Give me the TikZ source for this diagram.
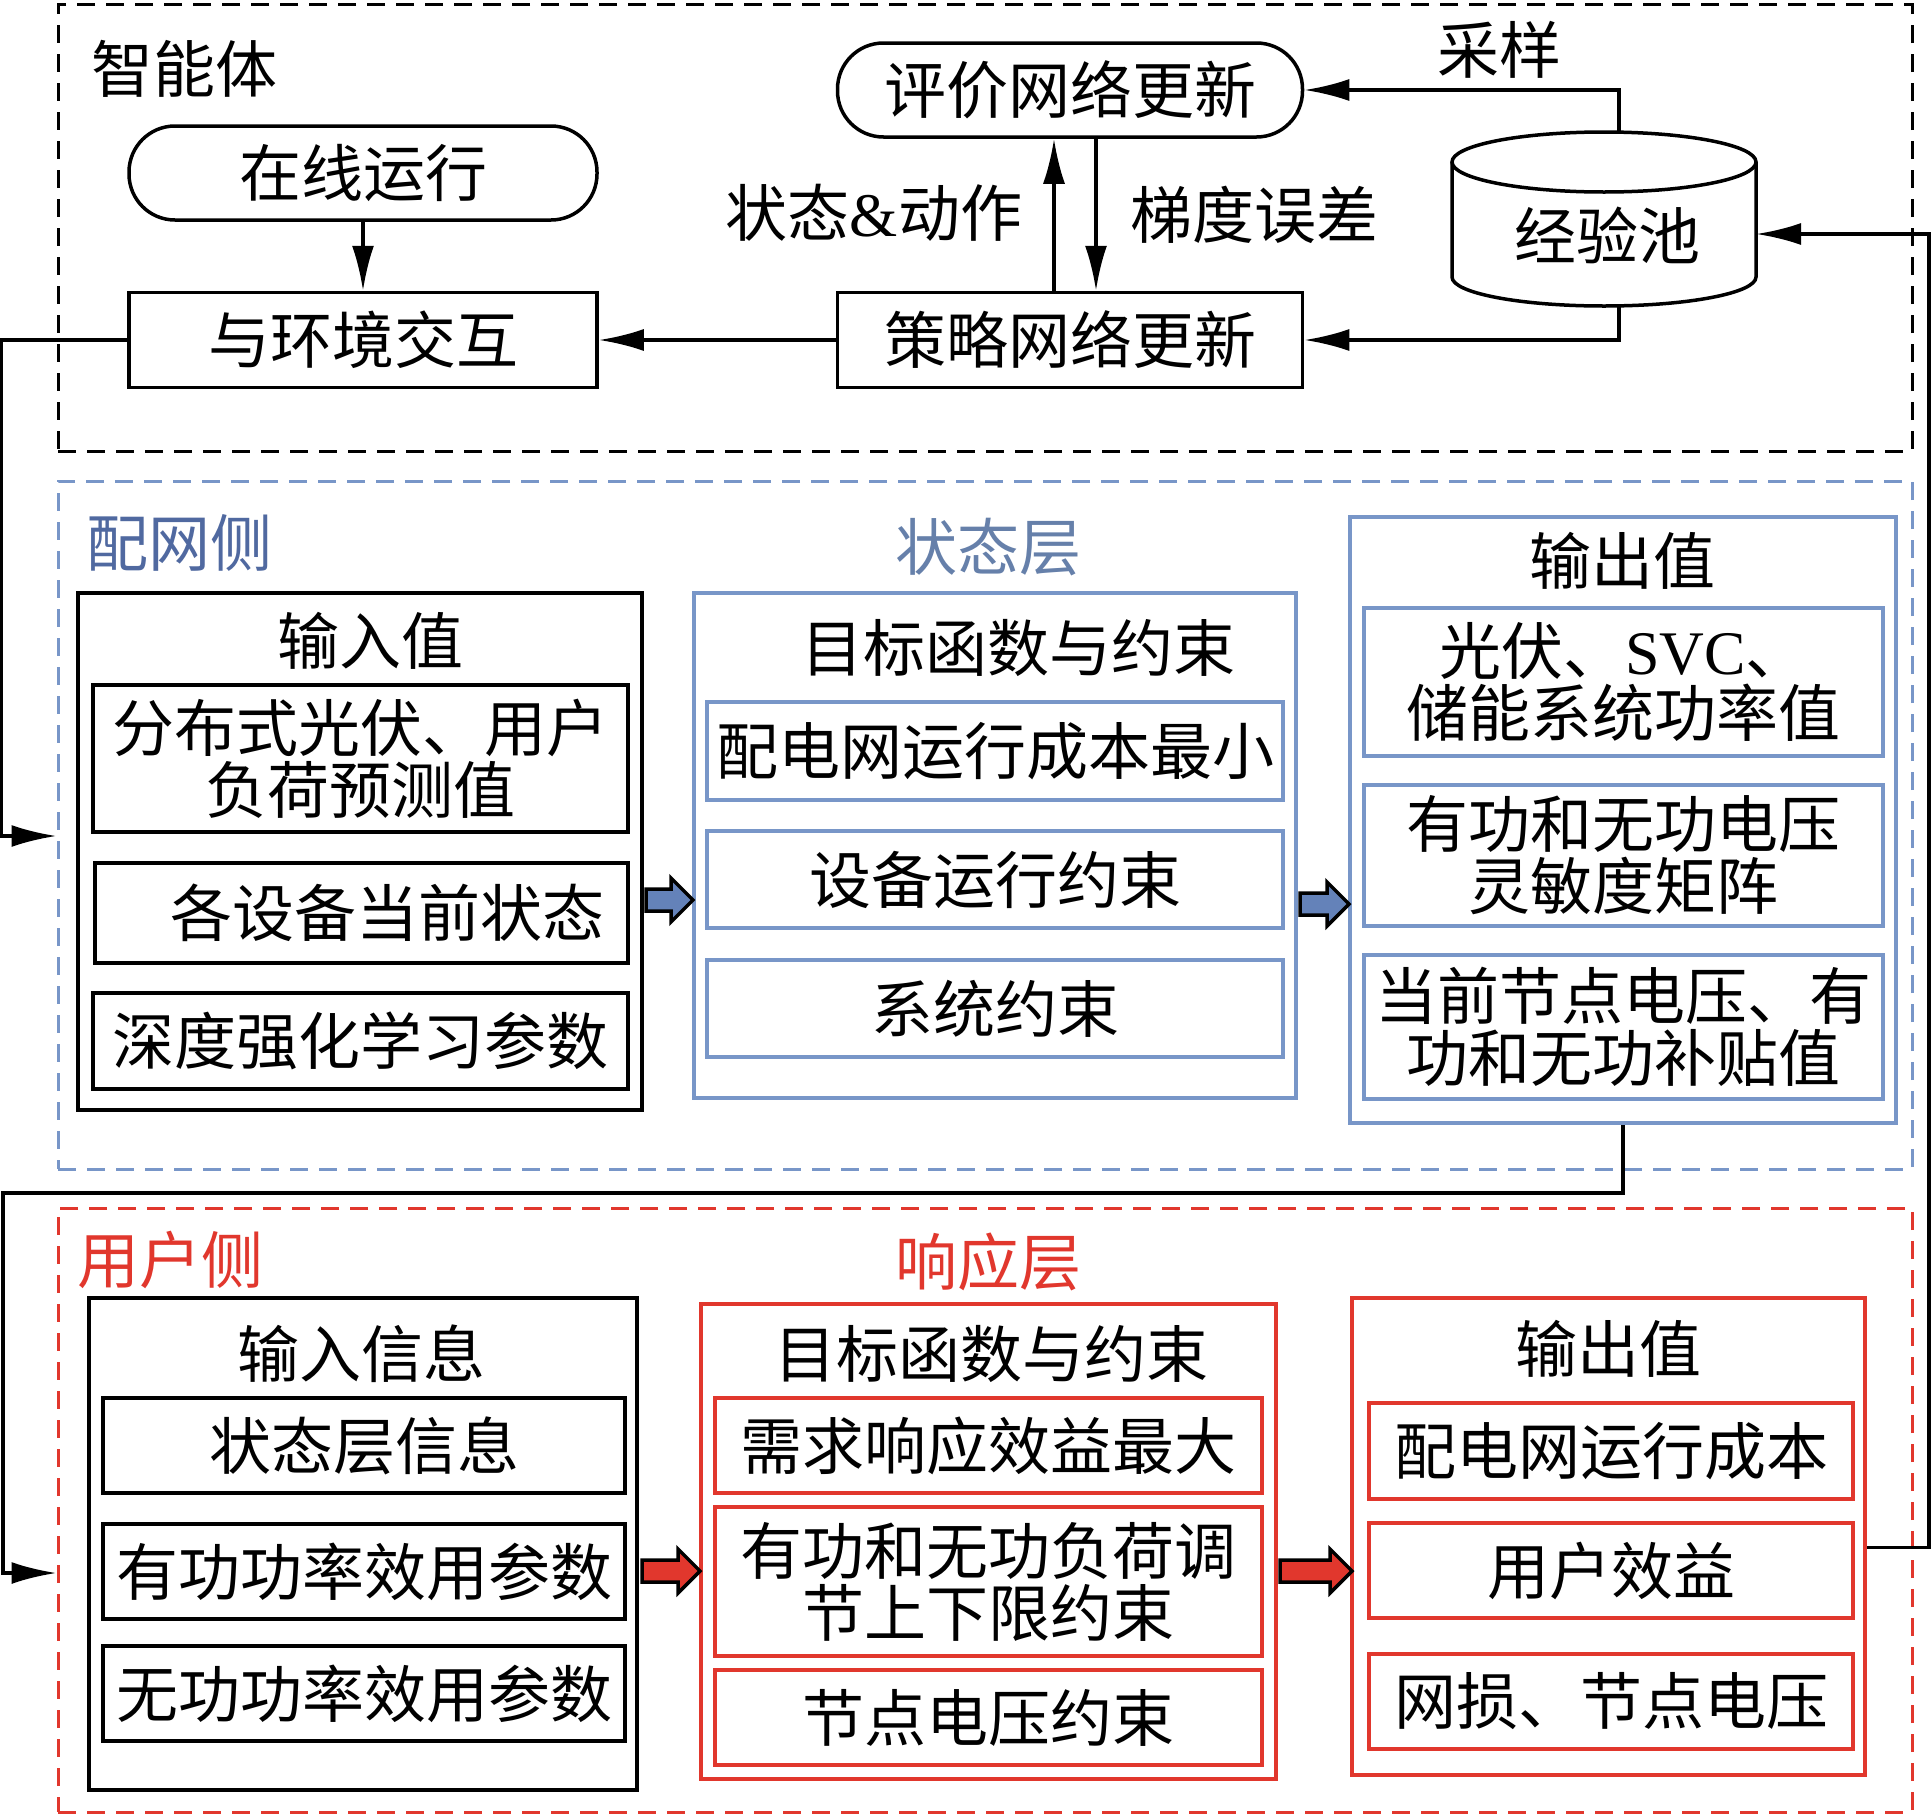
\documentclass[tikz,border=0pt]{standalone}
\usepackage{fontspec}
\setmainfont{Noto Sans CJK SC}
\newfontfamily\latinfont{Liberation Serif}
\usetikzlibrary{arrows.meta,calc}
\definecolor{bline}{RGB}{120,150,200}
\definecolor{bfill}{RGB}{100,130,185}
\definecolor{btext}{RGB}{80,105,160}
\definecolor{rline}{RGB}{225,55,45}
\newcommand\bigfont{\fontsize{62}{62}\selectfont}
\newcommand\fatarrow[4]{%
  \draw[line width=3.5pt,line join=miter,fill=#4]
    (#1,#3-11) -- (#2-22,#3-11) -- (#2-22,#3-22) -- (#2,#3) --
    (#2-22,#3+22) -- (#2-22,#3+11) -- (#1,#3+11) -- cycle;}
\begin{document}
\begin{tikzpicture}[x=1pt,y=-1pt,
  box/.style={draw,line width=3.5pt,inner sep=0pt,align=center,font=\bigfont},
  bbox/.style={box,draw=bline},
  rbox/.style={box,draw=rline},
  lbl/.style={inner sep=0pt,align=center,font=\bigfont},
  frame/.style={draw,line width=3pt,dash pattern=on 18pt off 11pt,inner sep=0pt},
  conn/.style={line width=3.5pt},
  arr/.style={conn,-{Latex[length=45pt,width=22pt]}}]
\useasboundingbox (0,0) rectangle (1931,1815);

% ---------- frames ----------
\node[frame,minimum width=1854pt,minimum height=447pt] (agent) at (985,227.5) {};
\node[frame,draw=bline,minimum width=1854pt,minimum height=688pt] (bluedash) at (985,825) {};
\node[frame,draw=rline,minimum width=1854pt,minimum height=604pt] (reddash) at (985,1510) {};

% ---------- agent ----------
\node[lbl] (agentlbl) at (184,69) {智能体};
\node[box,rounded corners=46pt,minimum width=468pt,minimum height=94pt] (online) at (363,173) {在线运行};
\node[box,minimum width=468pt,minimum height=95pt] (interact) at (363,340) {与环境交互};
\node[box,rounded corners=46pt,minimum width=465pt,minimum height=94pt] (critic) at (1070,90) {评价网络更新};
\node[box,minimum width=465pt,minimum height=95pt] (policy) at (1070,340) {策略网络更新};
\node[lbl] (sa) at (874,213) {状态{\latinfont\&}动作};
\node[lbl] (grad) at (1254,215) {梯度误差};
\node[lbl] (samp) at (1499,50) {采样};

% cylinder
\draw[line width=3.5pt,fill=white] (1452,162) -- (1452,277)
  arc[start angle=180,end angle=360,x radius=152pt,y radius=29pt] -- (1756,162);
\draw[line width=3.5pt] (1604,162) ellipse[x radius=152pt,y radius=30pt];
\node[lbl] (pool) at (1607,235) {经验池};
\coordinate (pooltop) at (1619,132);
\coordinate (poolbot) at (1619,306);
\coordinate (poolright) at (1756,234);

% ---------- distribution side ----------
\node[lbl,text=btext] (pwlbl) at (179,543) {配网侧};
\node[lbl,text=bline!85!black] (ztlbl) at (988,547) {状态层};

\node[box,minimum width=564pt,minimum height=517pt] (in1) at (360,851.5) {};
\node[lbl] (in1t) at (370,641) {输入值};
\node[box,minimum width=535pt,minimum height=147pt] (in1a) at (360.5,758.5) {分布式光伏、用户\\负荷预测值};
\node[box,minimum width=533pt,minimum height=100pt] (in1b) at (361.5,913) {\hspace*{52pt}各设备当前状态};
\node[box,minimum width=535pt,minimum height=96pt] (in1c) at (360.5,1041) {深度强化学习参数};

\node[bbox,minimum width=602pt,minimum height=505pt] (obj1) at (995,845.5) {};
\node[lbl] (obj1t) at (1018,648) {目标函数与约束};
\node[bbox,minimum width=576pt,minimum height=98pt] (obj1a) at (995,751) {配电网运行成本最小};
\node[bbox,minimum width=576pt,minimum height=97pt] (obj1b) at (995,879.5) {设备运行约束};
\node[bbox,minimum width=576pt,minimum height=97pt] (obj1c) at (995,1008.5) {系统约束};

\node[bbox,minimum width=546pt,minimum height=606pt] (out1) at (1623,820) {};
\node[lbl] (out1t) at (1622,561) {输出值};
\node[bbox,minimum width=519pt,minimum height=148pt] (out1a) at (1623.5,682) {光伏、{\latinfont SVC}、\\储能系统功率值};
\node[bbox,minimum width=519pt,minimum height=141pt] (out1b) at (1623.5,855.5) {有功和无功电压\\灵敏度矩阵};
\node[bbox,minimum width=519pt,minimum height=144pt] (out1c) at (1623.5,1027) {当前节点电压、有\\功和无功补贴值};

\fatarrow{646}{693}{900}{bfill}
\fatarrow{1300}{1349}{904}{bfill}

% ---------- user side ----------
\node[lbl,text=rline] (yhlbl) at (170,1260) {用户侧};
\node[lbl,text=rline] (xylbl) at (988,1262) {响应层};

\node[box,minimum width=548pt,minimum height=492pt] (in2) at (363,1544) {};
\node[lbl] (in2t) at (361,1354) {输入信息};
\node[box,minimum width=522pt,minimum height=95pt] (in2a) at (364,1445.5) {状态层信息};
\node[box,minimum width=522pt,minimum height=95pt] (in2b) at (364,1571.5) {有功功率效用参数};
\node[box,minimum width=522pt,minimum height=95pt] (in2c) at (364,1693.5) {无功功率效用参数};

\node[rbox,minimum width=575pt,minimum height=475pt] (obj2) at (988.5,1541.5) {};
\node[lbl] (obj2t) at (991,1354) {目标函数与约束};
\node[rbox,minimum width=547pt,minimum height=95pt] (obj2a) at (988.5,1445.5) {需求响应效益最大};
\node[rbox,minimum width=547pt,minimum height=149pt] (obj2b) at (988.5,1581.5) {有功和无功负荷调\\节上下限约束};
\node[rbox,minimum width=547pt,minimum height=95pt] (obj2c) at (988.5,1717.5) {节点电压约束};

\node[rbox,minimum width=513pt,minimum height=477pt] (out2) at (1608.5,1536.5) {};
\node[lbl] (out2t) at (1608,1349) {输出值};
\node[rbox,minimum width=484pt,minimum height=96pt] (out2a) at (1611,1451) {配电网运行成本};
\node[rbox,minimum width=484pt,minimum height=95pt] (out2b) at (1611,1570.5) {用户效益};
\node[rbox,minimum width=484pt,minimum height=95pt] (out2c) at (1611,1701.5) {网损、节点电压};

\fatarrow{642}{700}{1571}{rline}
\fatarrow{1280}{1352}{1571}{rline}

% ---------- connectors ----------
\draw[arr] (online.south) -- (interact.north);
\draw[arr] (policy.west) -- (interact.east);
\draw[arr] ($(policy.north)+(-16,0)$) -- ($(critic.south)+(-16,0)$);
\draw[arr] ($(critic.south)+(26,0)$) -- ($(policy.north)+(26,0)$);
\draw[arr] (pooltop) |- (critic.east);
\draw[arr] (poolbot) |- (policy.east);
\draw[arr] (interact.west) -- ++(-126,0) |- ($(bluedash.west)+(0,11)$);
\draw[arr] (out1.south) -- ++(0,68) -- ++(-1620,0) |- ($(reddash.west)+(0,63)$);
\draw[arr] ($(out2.east)+(0,11)$) -- ++(62,0) |- (poolright);
\end{tikzpicture}
\end{document}
